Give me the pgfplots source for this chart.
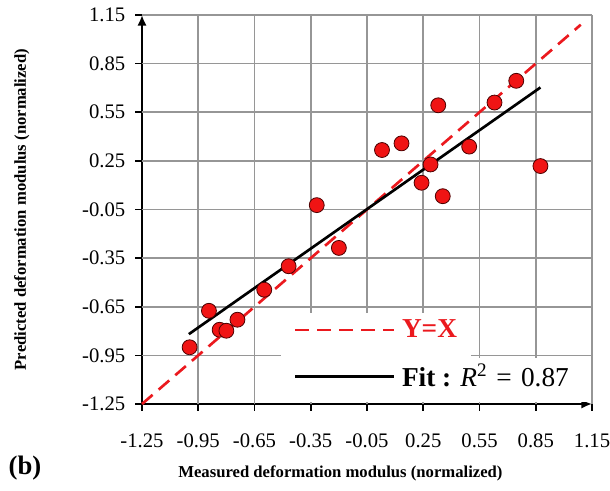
\documentclass[border=0pt]{standalone}
\usepackage{fontspec}
\setmainfont{Liberation Serif}
\usepackage{pgfplots}
\pgfplotsset{compat=1.18}
\usetikzlibrary{arrows.meta}
\definecolor{myred}{RGB}{235,25,30}
\definecolor{mkred}{RGB}{240,20,20}
\definecolor{gridgray}{RGB}{150,150,150}
\begin{document}
\begin{tikzpicture}
\begin{axis}[
  scale only axis, width=337.5pt, height=291.75pt,
  xmin=-1.25, xmax=1.15, ymin=-1.25, ymax=1.15,
  clip=false,
  axis x line=bottom, axis y line=left,
  axis line style={line width=1.6pt, -{Latex[length=8pt,width=7pt]}},
  xtick={-1.25,-0.95,-0.65,-0.35,-0.05,0.25,0.55,0.85,1.15},
  ytick={-1.25,-0.95,-0.65,-0.35,-0.05,0.25,0.55,0.85,1.15},
  xticklabels={-1.25,-0.95,-0.65,-0.35,-0.05,0.25,0.55,0.85,1.15},
  yticklabels={-1.25,-0.95,-0.65,-0.35,-0.05,0.25,0.55,0.85,1.15},
  xtick pos=bottom, ytick pos=left,
  tick align=outside, major tick length=5pt,
  every tick/.style={black, line width=1.2pt},
  ticklabel style={font=\fontsize{15.5}{17}\selectfont},
  xticklabel style={yshift=-14pt},
  yticklabel style={xshift=-4pt},
  xlabel={Measured deformation modulus (normalized)},
  ylabel={Predicted deformation modulus (normalized)},
  label style={font=\bfseries\fontsize{12.5}{14}\selectfont},
  xlabel style={at={(axis description cs:0.441,-0.178)}, anchor=center},
  ylabel style={at={(axis description cs:-0.267,0.5)}, anchor=center},
  legend style={at={(rel axis cs:0.961,0.025)}, anchor=south east, draw=none, fill=none,
    font=\bfseries\fontsize{20.5}{22}\selectfont, row sep=14pt, inner sep=2pt, column sep=3pt},
  legend cell align=left,
  legend image code/.code={\draw[#1] (0pt,0pt) -- (74pt,0pt);},
]
% grid lines
\addplot[gridgray, line width=1.2pt, forget plot] coordinates {(-0.95,-1.25) (-0.95,1.15)};
\addplot[gridgray, line width=1.2pt, forget plot] coordinates {(-0.65,-1.25) (-0.65,1.15)};
\addplot[gridgray, line width=1.2pt, forget plot] coordinates {(-0.35,-1.25) (-0.35,1.15)};
\addplot[gridgray, line width=1.2pt, forget plot] coordinates {(-0.05,-1.25) (-0.05,1.15)};
\addplot[gridgray, line width=1.2pt, forget plot] coordinates {(0.25,-1.25) (0.25,1.15)};
\addplot[gridgray, line width=1.2pt, forget plot] coordinates {(0.55,-1.25) (0.55,1.15)};
\addplot[gridgray, line width=1.2pt, forget plot] coordinates {(0.85,-1.25) (0.85,1.15)};
\addplot[gridgray, line width=1.2pt, forget plot] coordinates {(1.15,-1.25) (1.15,1.15)};
\addplot[gridgray, line width=1.2pt, forget plot] coordinates {(-1.25,-0.95) (1.15,-0.95)};
\addplot[gridgray, line width=1.2pt, forget plot] coordinates {(-1.25,-0.65) (1.15,-0.65)};
\addplot[gridgray, line width=1.2pt, forget plot] coordinates {(-1.25,-0.35) (1.15,-0.35)};
\addplot[gridgray, line width=1.2pt, forget plot] coordinates {(-1.25,-0.05) (1.15,-0.05)};
\addplot[gridgray, line width=1.2pt, forget plot] coordinates {(-1.25,0.25) (1.15,0.25)};
\addplot[gridgray, line width=1.2pt, forget plot] coordinates {(-1.25,0.55) (1.15,0.55)};
\addplot[gridgray, line width=1.2pt, forget plot] coordinates {(-1.25,0.85) (1.15,0.85)};
\addplot[gridgray, line width=1.2pt, forget plot] coordinates {(-1.25,1.15) (1.15,1.15)};
% white legend background patches
\fill[white] (axis cs:-0.51,-0.97) rectangle (axis cs:0.507,-0.687);
\fill[white] (axis cs:-0.51,-1.24) rectangle (axis cs:1.125,-0.965);
\addplot[only marks, mark=*, mark size=5.6pt, mark options={fill=mkred, draw=black!70!red, line width=0.6pt}, forget plot] coordinates {
(-0.996,-0.90) (-0.893,-0.675) (-0.836,-0.792) (-0.80,-0.798) (-0.741,-0.73)
(-0.598,-0.545) (-0.468,-0.40) (-0.318,-0.023) (-0.20,-0.287) (0.030,0.317)
(0.134,0.358) (0.330,0.593) (0.289,0.228) (0.241,0.115) (0.354,0.032)
(0.495,0.338) (0.630,0.61) (0.746,0.744) (0.875,0.218)
};
\addplot[myred, line width=2pt, dash pattern=on 10.5pt off 6pt] coordinates {(-1.25,-1.25) (1.09,1.09)};
\addlegendentry{\textcolor{myred}{Y=X}}
\addplot[black, line width=2pt] coordinates {(-1.0,-0.819) (0.875,0.703)};
\addlegendentry{Fit : \textnormal{\textit{R}\textsuperscript{2}\,\,=\,\,0.87}}
\coordinate (SW) at (rel axis cs:0,0);
\coordinate (NE) at (rel axis cs:1,1);
\end{axis}
\node[font=\bfseries\fontsize{20}{22}\selectfont] at ([shift={(-87.75pt,-48pt)}]SW) {(b)};
\pgfresetboundingbox
\path ([shift={(-106.5pt,-64.5pt)}]SW) rectangle ([shift={(13.5pt,11.25pt)}]NE);
\end{tikzpicture}
\end{document}
